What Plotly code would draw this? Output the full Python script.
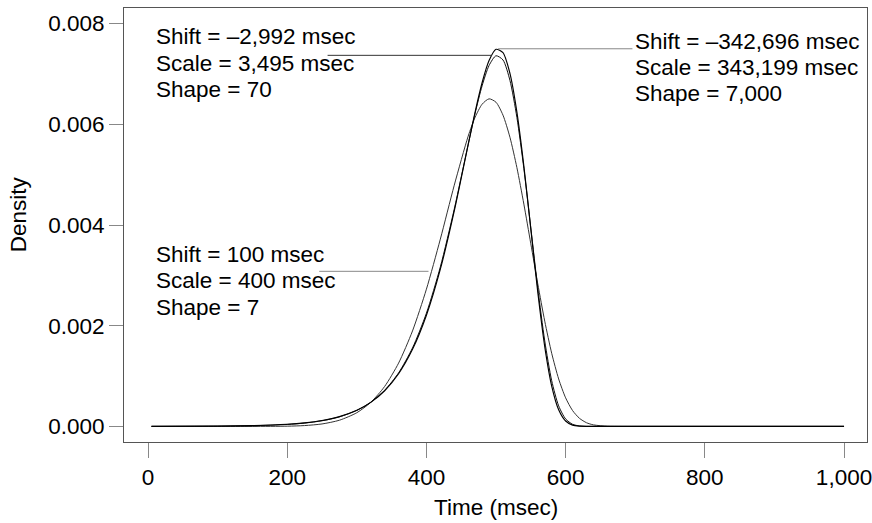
import plotly.graph_objects as go

# Time grid (msec) and densities
time_ms = [5, 100, 150, 200, 225, 250, 275, 300, 320, 340, 360, 380, 400, 420, 440,
           460, 470, 480, 490, 500, 510, 520, 530, 540, 550, 560, 570, 580, 590, 600,
           610, 620, 630, 640, 660, 680, 700, 800, 900, 1000]

# Shift = 100, Scale = 400, Shape = 7
dens_a = [0, 0, 0.00000007, 0.0000043, 0.0000163, 0.0000486, 0.0001223, 0.0002713,
          0.0004771, 0.000794, 0.0012567, 0.0018961, 0.0027255, 0.0037197, 0.0047903,
          0.0057647, 0.006141, 0.0063987, 0.006506, 0.0064379, 0.006182, 0.0057427,
          0.00514, 0.004415, 0.0036266, 0.0028313, 0.0020903, 0.0014523, 0.000942,
          0.0005672, 0.0003143, 0.0001591, 0.0000729, 0.00003, 0.0000035, 0.0000002,
          0, 0, 0, 0]

# Shift = -2,992, Scale = 3,495, Shape = 70
dens_b = [0.0000005, 0.0000043, 0.0000129, 0.0000383, 0.0000656, 0.0001116, 0.0001889,
          0.0003177, 0.0004786, 0.0007164, 0.0010628, 0.0015583, 0.0022477, 0.0031674,
          0.004315, 0.0055992, 0.0062208, 0.0067648, 0.0071686, 0.0073613, 0.0072784,
          0.0068726, 0.0061371, 0.0051234, 0.0039407, 0.0027468, 0.0016981, 0.0009076,
          0.0004076, 0.0001483, 0.0000416, 0.0000086, 0.0000012, 0.0000001, 0, 0,
          0, 0, 0, 0]

# Shift = -342,696, Scale = 343,199, Shape = 7,000
dens_c = [0.0000008, 0.0000055, 0.0000152, 0.0000421, 0.0000701, 0.0001164, 0.0001931,
          0.0003194, 0.0004765, 0.0007081, 0.0010457, 0.00153, 0.002208, 0.0031218,
          0.0042787, 0.0055972, 0.0062471, 0.0068256, 0.0072651, 0.0074896, 0.0074233,
          0.007012, 0.0062428, 0.005172, 0.003918, 0.0026636, 0.0015844, 0.0008005,
          0.0003302, 0.0001067, 0.0000254, 0.0000042, 0.0000004, 0, 0, 0,
          0, 0, 0, 0]

x_tick_vals = [0, 200, 400, 600, 800, 1000]
x_tick_text = ["0", "200", "400", "600", "800", "1,000"]
y_tick_vals = [0.000, 0.002, 0.004, 0.006, 0.008]

label_left = ["Shift = \u20132,992 msec", "Scale = 3,495 msec", "Shape = 70"]
label_left_y = [0.007746, 0.007215, 0.006685]
label_right = ["Shift = \u2013342,696 msec", "Scale = 343,199 msec", "Shape = 7,000"]
label_right_y = [0.007650, 0.007128, 0.006606]
label_mid = ["Shift = 100 msec", "Scale = 400 msec", "Shape = 7"]
label_mid_y = [0.003410, 0.002888, 0.002365]

FONT = "Liberation Sans, Arial, Helvetica, sans-serif"
FS = 22.5

fig = go.Figure()
fig.add_trace(go.Scatter(x=time_ms, y=dens_a, mode="lines",
                         line=dict(color="#333333", width=1, shape="spline", smoothing=0.7),
                         showlegend=False))
fig.add_trace(go.Scatter(x=time_ms, y=dens_b, mode="lines",
                         line=dict(color="#111111", width=1, shape="spline", smoothing=0.7),
                         showlegend=False))
fig.add_trace(go.Scatter(x=time_ms, y=dens_c, mode="lines",
                         line=dict(color="#000000", width=1.15, shape="spline", smoothing=0.7),
                         showlegend=False))

# leader lines
fig.add_shape(type="line", xref="x", yref="y", x0=258, x1=494, y0=0.00737, y1=0.00737,
              line=dict(color="#333333", width=1))
fig.add_shape(type="line", xref="x", yref="y", x0=503, x1=696, y0=0.0075, y1=0.0075,
              line=dict(color="#888888", width=1))
fig.add_shape(type="line", xref="x", yref="y", x0=246, x1=403, y0=0.00308, y1=0.00308,
              line=dict(color="#888888", width=1))

for txt, yy in zip(label_left, label_left_y):
    fig.add_annotation(x=9, y=yy, xref="x", yref="y", text=txt, showarrow=False,
                       xanchor="left", yanchor="middle", font=dict(size=FS, color="black", family=FONT))
for txt, yy in zip(label_right, label_right_y):
    fig.add_annotation(x=697.5, y=yy, xref="x", yref="y", text=txt, showarrow=False,
                       xanchor="left", yanchor="middle", font=dict(size=FS, color="black", family=FONT))
for txt, yy in zip(label_mid, label_mid_y):
    fig.add_annotation(x=9, y=yy, xref="x", yref="y", text=txt, showarrow=False,
                       xanchor="left", yanchor="middle", font=dict(size=FS, color="black", family=FONT))

# axis titles
fig.add_annotation(x=500, y=-0.152, xref="x", yref="paper", text="Time (msec)", showarrow=False,
                   xanchor="center", yanchor="middle", font=dict(size=FS, color="black", family=FONT))
fig.add_annotation(x=-0.1423, y=0.5253, xref="paper", yref="paper", text="Density", showarrow=False,
                   textangle=-90, xanchor="center", yanchor="middle",
                   font=dict(size=FS, color="black", family=FONT))

fig.update_layout(
    width=872, height=523,
    margin=dict(l=124, r=5, t=8, b=81, autoexpand=False),
    paper_bgcolor="white", plot_bgcolor="white",
    font=dict(family=FONT, size=FS, color="black"),
    xaxis=dict(range=[-34.5, 1033], tickvals=x_tick_vals, ticktext=x_tick_text,
               showgrid=False, zeroline=False, showline=True, mirror=True, automargin=False,
               linecolor="#555555", linewidth=1, ticks="outside", ticklen=15,
               tickcolor="#888888", tickwidth=1, ticklabeloverflow="allow",
               tickfont=dict(size=FS, color="black", family=FONT)),
    yaxis=dict(range=[-0.00031, 0.00831], tickvals=y_tick_vals, tickformat=".3f",
               showgrid=False, zeroline=False, showline=True, mirror=True, automargin=False,
               linecolor="#555555", linewidth=1, ticks="outside", ticklen=14,
               tickcolor="#888888", tickwidth=1,
               tickfont=dict(size=FS, color="black", family=FONT)),
)

fig.write_html("out.html")
